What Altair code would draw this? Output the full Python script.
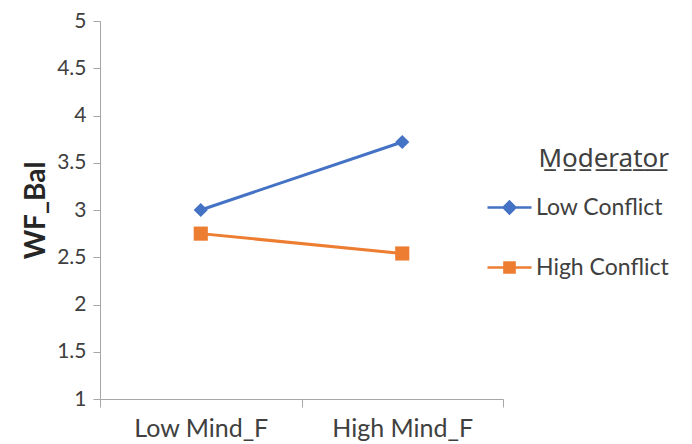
import altair as alt
import pandas as pd

categories = ["Low Mind_F", "High Mind_F"]
series = ["Low Conflict", "High Conflict"]
low_conflict = [3.0, 3.72]
high_conflict = [2.75, 2.54]
colors = ["#4472C4", "#ED7D31"]
y_ticks = [1, 1.5, 2, 2.5, 3, 3.5, 4, 4.5, 5]

key_names = [s + "\u00a0" * 5 for s in series]

rows = []
for s, k, vals in zip(series, key_names, [low_conflict, high_conflict]):
    for c, v in zip(categories, vals):
        rows.append({"Mind": c, "Moderator": s, "Marker": s, "Key": k, "WF_Bal": v})
df = pd.DataFrame(rows)

FONT = "Lato"
TXT = "#404040"
AX = "#a6a6a6"

diamond_path = "M-1,0H1M0,-0.27L0.27,0L0,0.27L-0.27,0Z"
square_path = "M-1,0H1M-0.23,-0.23H0.23V0.23H-0.23Z"

legend = alt.Legend(
    title="".join(ch + "\u0332" for ch in "Moderator"),
    orient="none",
    legendX=386,
    legendY=125,
    titleFont="Noto Sans",
    titleFontSize=26,
    titleFontWeight="normal",
    titleColor=TXT,
    titleAnchor="end",
    titleAlign="right",
    titlePadding=12,
    labelFont=FONT,
    labelFontSize=23,
    labelColor=TXT,
    labelOffset=3,
    symbolSize=1936,
    symbolStrokeWidth=2.5,
    symbolType=alt.ExprRef(
        expr=f"datum.value === '{key_names[0]}' ? '{diamond_path}' : '{square_path}'"
    ),
    rowPadding=24,
)

x = alt.X(
    "Mind:N",
    sort=categories,
    scale=alt.Scale(type="band", paddingInner=0, paddingOuter=0),
    bandPosition=0.5,
    axis=alt.Axis(
        title=None,
        tickBand="extent",
        labelAngle=0,
        labelFont=FONT,
        labelFontSize=25,
        labelColor=TXT,
        labelPadding=9,
        tickSize=8,
        tickColor=AX,
        domainColor=AX,
        grid=False,
    ),
)

y = alt.Y(
    "WF_Bal:Q",
    scale=alt.Scale(domain=[1, 5], nice=False, zero=False),
    axis=alt.Axis(
        title="WF_Bal",
        values=y_ticks,
        format="~g",
        titleFont=FONT,
        titleFontSize=28,
        titleFontWeight="bold",
        titleColor="#262626",
        titlePadding=6,
        labelFont=FONT,
        labelFontSize=21,
        labelColor=TXT,
        labelPadding=7,
        tickSize=7,
        tickColor=AX,
        domainColor=AX,
        grid=False,
    ),
)

base = alt.Chart(df).encode(x=x, y=y)

lines = base.mark_line(strokeWidth=3).encode(
    color=alt.Color(
        "Moderator:N",
        sort=series,
        scale=alt.Scale(domain=series, range=colors),
        legend=None,
    )
)
points = base.mark_point(filled=True, opacity=1).encode(
    color=alt.Color(
        "Marker:N",
        sort=series,
        scale=alt.Scale(domain=series, range=colors),
        legend=None,
    ),
    shape=alt.Shape(
        "Marker:N",
        sort=series,
        scale=alt.Scale(domain=series, range=["diamond", "square"]),
        legend=None,
    ),
    size=alt.value(200),
)
key = (
    base.mark_point(filled=True, opacity=1)
    .transform_filter("false")
    .encode(
        fill=alt.Fill(
            "Key:N",
            sort=key_names,
            scale=alt.Scale(domain=key_names, range=colors),
            legend=legend,
        ),
        stroke=alt.Stroke(
            "Key:N",
            sort=key_names,
            scale=alt.Scale(domain=key_names, range=colors),
            legend=legend,
        ),
    )
)

chart = (
    alt.layer(lines, points, key)
    .resolve_scale(color="independent", shape="independent")
    .resolve_legend(color="independent", shape="independent")
    .properties(width=403, height=378, padding={"left": 14, "top": 2, "right": 0, "bottom": 0})
    .configure_view(stroke=None)
)

chart.save("out.html", embed_options={"renderer": "svg", "actions": False})
